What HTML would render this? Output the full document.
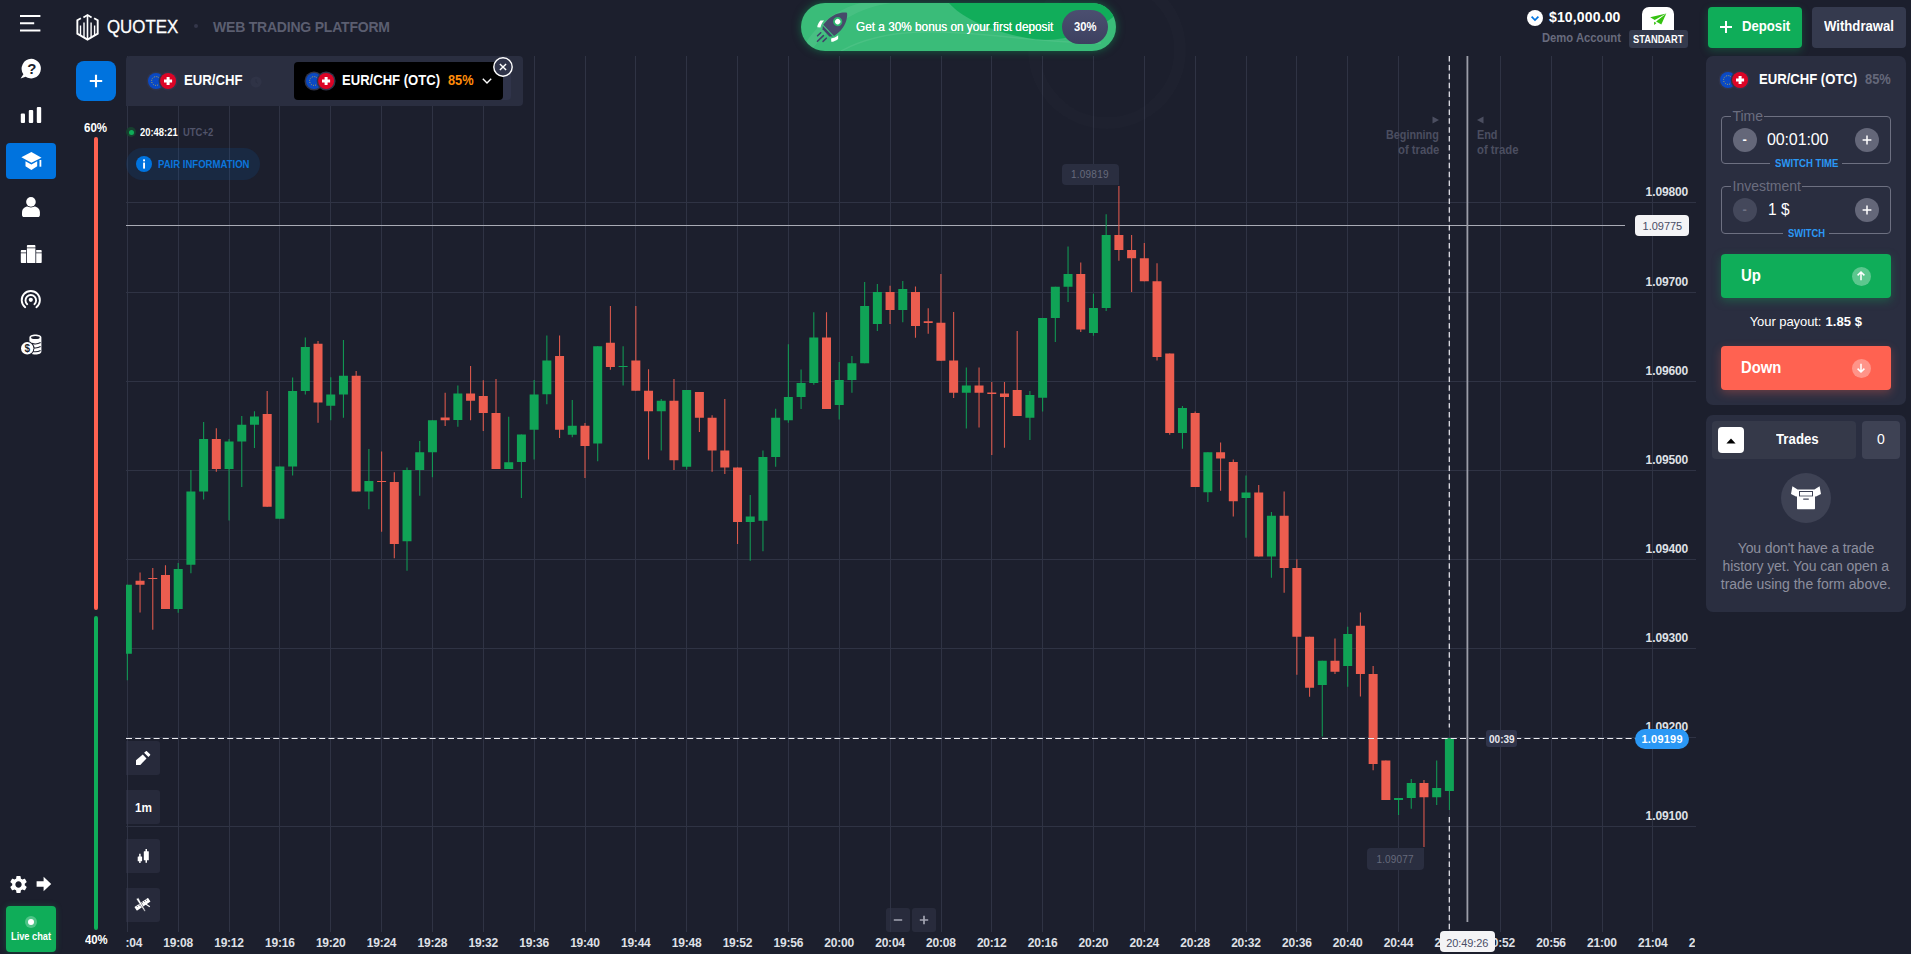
<!DOCTYPE html>
<html lang="en"><head><meta charset="utf-8"><title>Quotex - Web Trading Platform</title>
<style>
*{box-sizing:border-box;margin:0;padding:0}
html,body{width:1911px;height:954px;overflow:hidden;background:#1c1f2d;font-family:"Liberation Sans",sans-serif;color:#fff}
#app{position:relative;width:1911px;height:954px;overflow:hidden;background:#1c1f2d}
.t{position:absolute;white-space:pre;display:block;transform-origin:0 50%}
.a{position:absolute;display:block}
svg{position:absolute;display:block;overflow:visible}
</style></head><body><div id="app">

<svg id="chart" width="1911" height="954" viewBox="0 0 1911 954" style="left:0;top:0">
<defs><clipPath id="cc"><rect x="126" y="56" width="1570" height="880"/></clipPath></defs>
<path d="M127.5 56V932 M178.5 56V932 M229.5 56V932 M279.5 56V932 M330.5 56V932 M381.5 56V932 M432.5 56V932 M483.5 56V932 M534.5 56V932 M585.5 56V932 M635.5 56V932 M686.5 56V932 M737.5 56V932 M788.5 56V932 M839.5 56V932 M890.5 56V932 M941.5 56V932 M991.5 56V932 M1042.5 56V932 M1093.5 56V932 M1144.5 56V932 M1195.5 56V932 M1246.5 56V932 M1296.5 56V932 M1347.5 56V932 M1398.5 56V932 M1449.5 56V932 M1500.5 56V932 M1551.5 56V932 M1602.5 56V932 M1652.5 56V932 M126 202.5H1696 M126 292.5H1696 M126 381.5H1696 M126 470.5H1696 M126 559.5H1696 M126 648.5H1696 M126 737.5H1696 M126 826.5H1696" stroke="#2f3344" stroke-width="1" fill="none" shape-rendering="crispEdges"/>
<path d="M126 225.5H1625" stroke="#a9abb5" stroke-width="1" fill="none"/>
<path d="M1449.3 56V727.6M1449.3 817V932" stroke="#e4e4ea" stroke-width="1.25" stroke-dasharray="5.5 3.4" fill="none"/>
<g clip-path="url(#cc)">
<path d="M127.35 584.8V680.3 M178.20 563.0V612.7 M190.91 470.1V573.3 M203.62 422.1V499.6 M229.05 439.0V520.5 M241.76 416.0V486.9 M254.47 411.2V447.9 M279.89 466.5V518.8 M292.61 377.4V475.6 M305.32 337.4V394.4 M330.74 377.2V420.2 M343.45 340.1V417.7 M368.88 448.9V509.3 M407.01 467.6V570.8 M419.73 441.0V495.7 M432.44 420.2V477.2 M457.86 385.4V426.7 M508.71 416.8V469.1 M521.42 434.5V498.0 M534.13 380.1V459.4 M546.85 335.5V404.3 M572.27 399.9V437.2 M597.69 346.2V461.3 M623.12 346.2V385.6 M661.25 399.0V450.6 M686.68 390.0V469.5 M750.24 495.0V560.7 M762.95 450.6V551.2 M775.66 408.7V466.7 M788.37 344.3V422.7 M801.09 369.5V408.9 M813.80 312.2V384.8 M839.22 362.1V419.6 M851.93 356.0V392.7 M864.65 282.0V363.2 M877.36 284.0V331.0 M902.78 281.1V322.2 M966.34 367.6V428.4 M1029.90 391.1V440.0 M1042.61 318.0V411.5 M1055.33 286.8V341.9 M1068.04 246.5V301.9 M1093.46 293.7V335.7 M1106.17 214.2V310.9 M1182.45 406.0V448.8 M1207.87 452.2V502.0 M1246.01 475.4V537.7 M1271.43 512.1V577.7 M1322.28 660.7V736.4 M1347.70 626.8V686.7 M1398.55 798.0V815.0 M1411.26 779.0V808.7 M1436.69 760.4V805.0 M1449.40 738.1V809.9" stroke="#10a356" stroke-width="1.1" fill="none" opacity="0.9"/>
<path d="M140.06 572.5V612.5 M152.77 568.0V629.7 M165.49 565.3V608.9 M216.33 428.2V471.8 M267.18 391.0V506.7 M318.03 341.0V422.7 M356.17 371.0V491.6 M381.59 451.4V531.8 M394.30 472.2V558.2 M445.15 392.7V425.9 M470.57 365.9V420.2 M483.29 380.2V430.9 M496.00 379.1V469.1 M559.56 335.5V438.0 M584.98 422.9V478.0 M610.41 305.9V369.7 M635.83 305.9V390.8 M648.54 369.2V459.6 M673.97 379.1V469.9 M699.39 391.9V431.9 M712.10 415.2V471.8 M724.81 399.0V473.9 M737.53 467.5V544.1 M826.51 312.2V408.9 M890.07 285.8V323.9 M915.49 286.4V337.7 M928.21 308.2V333.8 M940.92 274.1V360.8 M953.63 312.1V398.0 M979.05 367.6V427.6 M991.77 381.9V454.9 M1004.48 381.9V447.7 M1017.19 331.0V415.9 M1080.75 262.5V332.0 M1118.89 186.1V260.8 M1131.60 235.0V292.0 M1144.31 243.0V281.3 M1157.02 263.3V360.6 M1169.73 353.4V434.7 M1195.16 411.5V486.9 M1220.58 442.4V490.7 M1233.29 459.4V516.5 M1258.72 485.0V556.6 M1284.14 491.4V592.8 M1296.85 559.3V674.8 M1309.57 636.7V696.8 M1334.99 638.4V674.0 M1360.41 612.6V696.6 M1373.13 665.9V770.3 M1385.84 760.6V799.9 M1423.97 779.9V847.0" stroke="#ec5d4f" stroke-width="1.1" fill="none" opacity="0.9"/>
<path d="M122.85 584.8h9V653.8h-9z M173.70 568.9h9V608.9h-9z M186.41 491.5h9V564.7h-9z M199.12 439.1h9V491.5h-9z M224.55 441.6h9V469.1h-9z M237.26 424.8h9V441.6h-9z M249.97 416.6h9V424.7h-9z M275.39 466.5h9V518.8h-9z M288.11 391.0h9V466.5h-9z M300.82 347.0h9V391.0h-9z M326.24 394.4h9V405.7h-9z M338.95 375.8h9V394.4h-9z M364.38 481.0h9V491.6h-9z M402.51 470.1h9V541.2h-9z M415.23 452.3h9V470.1h-9z M427.94 420.2h9V452.3h-9z M453.36 393.6h9V420.0h-9z M504.21 462.2h9V469.1h-9z M516.92 434.5h9V462.0h-9z M529.63 394.4h9V429.8h-9z M542.35 360.6h9V394.2h-9z M567.77 425.8h9V434.7h-9z M593.19 346.2h9V443.5h-9z M618.62 366.1h9V367.1h-9z M656.75 400.7h9V411.2h-9z M682.18 390.0h9V466.7h-9z M745.74 516.4h9V521.9h-9z M758.45 457.0h9V520.8h-9z M771.16 417.7h9V456.9h-9z M783.87 397.1h9V420.2h-9z M796.59 383.1h9V396.9h-9z M809.30 337.4h9V382.9h-9z M834.72 380.1h9V404.9h-9z M847.43 363.2h9V380.1h-9z M860.15 306.1h9V363.2h-9z M872.86 292.0h9V323.9h-9z M898.28 289.1h9V309.9h-9z M961.84 385.5h9V392.8h-9z M1025.40 395.1h9V417.8h-9z M1038.11 318.0h9V397.8h-9z M1050.83 286.8h9V318.0h-9z M1063.54 274.0h9V286.8h-9z M1088.96 307.9h9V332.9h-9z M1101.67 235.0h9V307.9h-9z M1177.95 407.9h9V432.9h-9z M1203.37 452.2h9V492.3h-9z M1241.51 492.4h9V497.9h-9z M1266.93 515.7h9V556.6h-9z M1317.78 660.7h9V684.9h-9z M1343.20 633.9h9V666.1h-9z M1394.05 798.0h9V799.9h-9z M1406.76 783.1h9V798.0h-9z M1432.19 787.9h9V797.2h-9z M1444.90 738.1h9V791.0h-9z" fill="#10a356"/>
<path d="M135.56 580.8h9V584.8h-9z M148.27 577.9h9V578.9h-9z M160.99 575.0h9V608.9h-9z M211.83 439.1h9V469.1h-9z M262.68 414.1h9V506.7h-9z M313.53 343.7h9V402.4h-9z M351.67 375.8h9V491.6h-9z M377.09 481.0h9V482.0h-9z M389.80 481.9h9V543.9h-9z M440.65 417.5h9V420.2h-9z M466.07 393.6h9V400.7h-9z M478.79 396.1h9V412.9h-9z M491.50 413.1h9V469.1h-9z M555.06 356.0h9V429.8h-9z M580.48 425.8h9V446.0h-9z M605.91 342.8h9V366.9h-9z M631.33 360.6h9V390.8h-9z M644.04 390.8h9V411.2h-9z M669.47 400.7h9V460.2h-9z M694.89 391.9h9V417.7h-9z M707.60 417.7h9V450.6h-9z M720.31 450.6h9V467.6h-9z M733.03 467.5h9V521.9h-9z M822.01 337.4h9V408.9h-9z M885.57 292.0h9V309.9h-9z M910.99 292.0h9V326.0h-9z M923.71 321.3h9V323.1h-9z M936.42 322.8h9V360.8h-9z M949.13 360.5h9V392.8h-9z M974.55 385.5h9V392.8h-9z M987.27 392.6h9V393.9h-9z M999.98 393.6h9V397.0h-9z M1012.69 389.9h9V415.9h-9z M1076.25 274.0h9V329.5h-9z M1114.39 235.0h9V249.9h-9z M1127.10 249.9h9V258.3h-9z M1139.81 258.3h9V281.3h-9z M1152.52 281.3h9V356.9h-9z M1165.23 353.4h9V432.9h-9z M1190.66 412.9h9V486.9h-9z M1216.08 452.2h9V458.6h-9z M1228.79 462.1h9V501.2h-9z M1254.22 492.4h9V556.6h-9z M1279.64 515.7h9V567.9h-9z M1292.35 568.1h9V636.8h-9z M1305.07 636.7h9V687.7h-9z M1330.49 660.7h9V671.8h-9z M1355.91 625.8h9V674.0h-9z M1368.63 674.0h9V764.0h-9z M1381.34 760.6h9V799.9h-9z M1419.47 783.1h9V797.2h-9z" fill="#ec5d4f"/>
</g>
<path d="M126 738.5H1640" stroke="#ececf0" stroke-width="1.2" stroke-dasharray="6 3.2" fill="none"/>
<path d="M1467.4 56V922" stroke="#9b9da8" stroke-width="1.8" fill="none"/>
</svg>
<span class="t" style="left:1645.60px;top:183.70px;font-size:12px;line-height:16px;height:16px;color:#dfe0e6;letter-spacing:-0.113px;font-weight:700;">1.09800</span>
<span class="t" style="left:1645.60px;top:273.70px;font-size:12px;line-height:16px;height:16px;color:#dfe0e6;letter-spacing:-0.113px;font-weight:700;">1.09700</span>
<span class="t" style="left:1645.60px;top:362.70px;font-size:12px;line-height:16px;height:16px;color:#dfe0e6;letter-spacing:-0.113px;font-weight:700;">1.09600</span>
<span class="t" style="left:1645.60px;top:451.70px;font-size:12px;line-height:16px;height:16px;color:#dfe0e6;letter-spacing:-0.113px;font-weight:700;">1.09500</span>
<span class="t" style="left:1645.60px;top:540.70px;font-size:12px;line-height:16px;height:16px;color:#dfe0e6;letter-spacing:-0.113px;font-weight:700;">1.09400</span>
<span class="t" style="left:1645.60px;top:629.70px;font-size:12px;line-height:16px;height:16px;color:#dfe0e6;letter-spacing:-0.113px;font-weight:700;">1.09300</span>
<span class="t" style="left:1645.60px;top:718.70px;font-size:12px;line-height:16px;height:16px;color:#dfe0e6;letter-spacing:-0.113px;font-weight:700;">1.09200</span>
<span class="t" style="left:1645.60px;top:807.70px;font-size:12px;line-height:16px;height:16px;color:#dfe0e6;letter-spacing:-0.113px;font-weight:700;">1.09100</span>
<div class="a" style="left:126px;top:930px;width:1569px;height:24px;overflow:hidden">
<span class="t" style="left:-13.50px;top:5.00px;font-size:12px;line-height:16px;height:16px;color:#dfe0e6;letter-spacing:-0.223px;font-weight:700;">19:04</span>
<span class="t" style="left:37.35px;top:5.00px;font-size:12px;line-height:16px;height:16px;color:#dfe0e6;letter-spacing:-0.223px;font-weight:700;">19:08</span>
<span class="t" style="left:88.20px;top:5.00px;font-size:12px;line-height:16px;height:16px;color:#dfe0e6;letter-spacing:-0.223px;font-weight:700;">19:12</span>
<span class="t" style="left:139.04px;top:5.00px;font-size:12px;line-height:16px;height:16px;color:#dfe0e6;letter-spacing:-0.223px;font-weight:700;">19:16</span>
<span class="t" style="left:189.89px;top:5.00px;font-size:12px;line-height:16px;height:16px;color:#dfe0e6;letter-spacing:-0.223px;font-weight:700;">19:20</span>
<span class="t" style="left:240.74px;top:5.00px;font-size:12px;line-height:16px;height:16px;color:#dfe0e6;letter-spacing:-0.223px;font-weight:700;">19:24</span>
<span class="t" style="left:291.59px;top:5.00px;font-size:12px;line-height:16px;height:16px;color:#dfe0e6;letter-spacing:-0.223px;font-weight:700;">19:28</span>
<span class="t" style="left:342.44px;top:5.00px;font-size:12px;line-height:16px;height:16px;color:#dfe0e6;letter-spacing:-0.223px;font-weight:700;">19:32</span>
<span class="t" style="left:393.28px;top:5.00px;font-size:12px;line-height:16px;height:16px;color:#dfe0e6;letter-spacing:-0.223px;font-weight:700;">19:36</span>
<span class="t" style="left:444.13px;top:5.00px;font-size:12px;line-height:16px;height:16px;color:#dfe0e6;letter-spacing:-0.223px;font-weight:700;">19:40</span>
<span class="t" style="left:494.98px;top:5.00px;font-size:12px;line-height:16px;height:16px;color:#dfe0e6;letter-spacing:-0.223px;font-weight:700;">19:44</span>
<span class="t" style="left:545.83px;top:5.00px;font-size:12px;line-height:16px;height:16px;color:#dfe0e6;letter-spacing:-0.223px;font-weight:700;">19:48</span>
<span class="t" style="left:596.68px;top:5.00px;font-size:12px;line-height:16px;height:16px;color:#dfe0e6;letter-spacing:-0.223px;font-weight:700;">19:52</span>
<span class="t" style="left:647.52px;top:5.00px;font-size:12px;line-height:16px;height:16px;color:#dfe0e6;letter-spacing:-0.223px;font-weight:700;">19:56</span>
<span class="t" style="left:698.37px;top:5.00px;font-size:12px;line-height:16px;height:16px;color:#dfe0e6;letter-spacing:-0.223px;font-weight:700;">20:00</span>
<span class="t" style="left:749.22px;top:5.00px;font-size:12px;line-height:16px;height:16px;color:#dfe0e6;letter-spacing:-0.223px;font-weight:700;">20:04</span>
<span class="t" style="left:800.07px;top:5.00px;font-size:12px;line-height:16px;height:16px;color:#dfe0e6;letter-spacing:-0.223px;font-weight:700;">20:08</span>
<span class="t" style="left:850.92px;top:5.00px;font-size:12px;line-height:16px;height:16px;color:#dfe0e6;letter-spacing:-0.223px;font-weight:700;">20:12</span>
<span class="t" style="left:901.76px;top:5.00px;font-size:12px;line-height:16px;height:16px;color:#dfe0e6;letter-spacing:-0.223px;font-weight:700;">20:16</span>
<span class="t" style="left:952.61px;top:5.00px;font-size:12px;line-height:16px;height:16px;color:#dfe0e6;letter-spacing:-0.223px;font-weight:700;">20:20</span>
<span class="t" style="left:1003.46px;top:5.00px;font-size:12px;line-height:16px;height:16px;color:#dfe0e6;letter-spacing:-0.223px;font-weight:700;">20:24</span>
<span class="t" style="left:1054.31px;top:5.00px;font-size:12px;line-height:16px;height:16px;color:#dfe0e6;letter-spacing:-0.223px;font-weight:700;">20:28</span>
<span class="t" style="left:1105.16px;top:5.00px;font-size:12px;line-height:16px;height:16px;color:#dfe0e6;letter-spacing:-0.223px;font-weight:700;">20:32</span>
<span class="t" style="left:1156.00px;top:5.00px;font-size:12px;line-height:16px;height:16px;color:#dfe0e6;letter-spacing:-0.223px;font-weight:700;">20:36</span>
<span class="t" style="left:1206.85px;top:5.00px;font-size:12px;line-height:16px;height:16px;color:#dfe0e6;letter-spacing:-0.223px;font-weight:700;">20:40</span>
<span class="t" style="left:1257.70px;top:5.00px;font-size:12px;line-height:16px;height:16px;color:#dfe0e6;letter-spacing:-0.223px;font-weight:700;">20:44</span>
<span class="t" style="left:1308.55px;top:5.00px;font-size:12px;line-height:16px;height:16px;color:#dfe0e6;letter-spacing:-0.223px;font-weight:700;">20:48</span>
<span class="t" style="left:1359.40px;top:5.00px;font-size:12px;line-height:16px;height:16px;color:#dfe0e6;letter-spacing:-0.223px;font-weight:700;">20:52</span>
<span class="t" style="left:1410.24px;top:5.00px;font-size:12px;line-height:16px;height:16px;color:#dfe0e6;letter-spacing:-0.223px;font-weight:700;">20:56</span>
<span class="t" style="left:1461.09px;top:5.00px;font-size:12px;line-height:16px;height:16px;color:#dfe0e6;letter-spacing:-0.223px;font-weight:700;">21:00</span>
<span class="t" style="left:1511.94px;top:5.00px;font-size:12px;line-height:16px;height:16px;color:#dfe0e6;letter-spacing:-0.223px;font-weight:700;">21:04</span>
<span class="t" style="left:1562.79px;top:5.00px;font-size:12px;line-height:16px;height:16px;color:#dfe0e6;letter-spacing:-0.223px;font-weight:700;">21:08</span>
</div>
<div class="a" style="left:1635px;top:215px;width:54px;height:21px;border-radius:4px;background:#f4f4f6"></div>
<span class="t" style="left:1642.60px;top:218.80px;font-size:11px;line-height:14px;height:14px;color:#4a4e66;letter-spacing:-0.027px;">1.09775</span>
<div class="a" style="left:1635px;top:729px;width:54px;height:20px;border-radius:10px;background:#2b98f5"></div>
<span class="t" style="left:1641.50px;top:732.00px;font-size:11px;line-height:14px;height:14px;color:#fff;letter-spacing:0.206px;font-weight:700;">1.09199</span>
<div class="a" style="left:1486px;top:730px;width:31px;height:17px;border-radius:3px;background:#30344a"></div>
<span class="t" style="left:1488.60px;top:731.90px;font-size:11px;line-height:14px;height:14px;color:#e8e8ee;transform:scaleX(0.9099);font-weight:700;">00:39</span>
<div class="a" style="left:1440px;top:931px;width:55px;height:21px;border-radius:4px;background:#f4f4f6"></div>
<span class="t" style="left:1446.30px;top:935.50px;font-size:11px;line-height:14px;height:14px;color:#4a4e66;letter-spacing:-0.117px;">20:49:26</span>
<div class="a" style="left:1062px;top:164px;width:57px;height:21px;border-radius:4px 4px 0 4px;background:#2a2e40"></div>
<span class="t" style="left:1071.00px;top:168.30px;font-size:10px;line-height:13px;height:13px;color:#666a7c;letter-spacing:0.225px;">1.09819</span>
<div class="a" style="left:1367px;top:848px;width:57px;height:22px;border-radius:4px 0 4px 4px;background:#2a2e40"></div>
<span class="t" style="left:1376.50px;top:853.00px;font-size:10px;line-height:13px;height:13px;color:#666a7c;letter-spacing:0.142px;">1.09077</span>
<span class="t" style="left:1386.20px;top:127.00px;font-size:12px;line-height:16px;height:16px;color:#4b4e60;transform:scaleX(0.9001);font-weight:700;">Beginning</span>
<span class="t" style="left:1397.60px;top:142.00px;font-size:12px;line-height:16px;height:16px;color:#4b4e60;transform:scaleX(0.9408);font-weight:700;">of trade</span>
<span class="t" style="left:1476.50px;top:127.00px;font-size:12px;line-height:16px;height:16px;color:#4b4e60;transform:scaleX(0.9045);font-weight:700;">End</span>
<span class="t" style="left:1476.50px;top:142.00px;font-size:12px;line-height:16px;height:16px;color:#4b4e60;transform:scaleX(0.9431);font-weight:700;">of trade</span>
<svg width="8" height="8" viewBox="0 0 8 8" style="left:1432px;top:115.5px"><path d="M0.5 0.5L7 4L0.5 7.5z" fill="#4b4e60"/></svg>
<svg width="8" height="8" viewBox="0 0 8 8" style="left:1476px;top:115.5px"><path d="M7.5 0.5L1 4L7.5 7.5z" fill="#4b4e60"/></svg>
<div class="a" style="left:886px;top:908px;width:24px;height:24px;border-radius:3px;background:rgba(48,52,70,.62)"></div>
<div class="a" style="left:912px;top:908px;width:24px;height:24px;border-radius:3px;background:rgba(48,52,70,.62)"></div>
<svg width="50" height="24" viewBox="0 0 50 24" style="left:886px;top:908px"><path d="M7.8 12h8.4M33.8 12h8.4M38 7.8v8.4" stroke="#a3a5b2" stroke-width="1.7" fill="none"/></svg>
<svg width="22" height="18" viewBox="0 0 22 18" style="left:20px;top:14px"><path d="M0 2h20.4M0 9.2h14.2M0 16.4h20.4" stroke="#fff" stroke-width="2" fill="none"/></svg>
<svg width="23" height="27" viewBox="0 0 23 27" style="left:75.85px;top:13.8px">
<path d="M4.9 4.2L1.35 6.3V19.6L11.5 25.6L21.7 19.6V6.3L18.1 4.2" fill="none" stroke="#fff" stroke-width="1.9" stroke-linejoin="miter"/>
<path d="M7.4 3.6L11.5 1.1L15.6 3.6" fill="none" stroke="#fff" stroke-width="1.7"/>
<path d="M11.5 1.2V25" stroke="#fff" stroke-width="1.6" fill="none"/>
<path d="M4.5 11.4V21M8 8.6V23.2M15.1 8.6V23.2M18.6 11.4V21" stroke="#fff" stroke-width="1.4" fill="none"/>
</svg>
<span class="t" style="left:107.20px;top:15.80px;font-size:18px;line-height:23px;height:23px;color:#fff;transform:scaleX(0.9367);-webkit-text-stroke:.3px #fff;">QUOTEX</span>
<div class="a" style="left:193.6px;top:24px;width:4.4px;height:4.4px;border-radius:50%;background:#34374a"></div>
<span class="t" style="left:213.00px;top:18.20px;font-size:14px;line-height:18px;height:18px;color:#5b5e70;letter-spacing:-0.208px;font-weight:700;">WEB TRADING PLATFORM</span>
<div class="a" style="left:1028px;top:-29px;width:158px;height:158px;border-radius:50%;border:12px solid rgba(255,255,255,.012)"></div>
<div class="a" style="left:801px;top:3px;width:315px;height:48px;border-radius:24px;background:#3abc79;box-shadow:0 0 9px rgba(16,173,91,.5);overflow:hidden">
<svg width="315" height="48" viewBox="0 0 315 48" style="left:0;top:0">
<path d="M148 0C160 14 190 30 235 36.5C262 39 292 30 315 12V0Z" fill="#11ad5a"/>
<path d="M10 48C30 20 60 4 90 0H60C35 6 12 24 0 48Z" fill="#fff" opacity=".07"/>
<path d="M40 48C110 10 200 40 300 40" fill="none" stroke="#fff" stroke-width="1.4" opacity=".08"/>
</svg></div>
<svg width="40" height="40" viewBox="810 8 40 40" style="left:810px;top:8px">
<g transform="translate(847 12.7) rotate(46.2)">
<path d="M0 0C-3 2-7.6 8-8.3 17C-8.4 20-8.1 23-7.8 25.4H7.8C8.1 23 8.6 20 8.5 17C7.8 8 3 2 0 0Z" fill="#464a6a"/>
<circle cx="0" cy="12.9" r="4.6" fill="#2cb86e"/><circle cx="0" cy="12.9" r="2.7" fill="#fff"/>
<path d="M-7.3 26.6H7.3L4.9 29.2H-4.9Z" fill="#40446a"/>
<path d="M-10.2 22L-12.8 24.6C-12.6 27.5-11.6 30-10.1 31.5L-7.7 29.4C-9.2 27.2-10 24.8-10.2 22Z" fill="#fff"/>
<path d="M10.2 22L12.8 24.6C12.6 27.5 11.6 30 10.1 31.5L7.7 29.4C9.2 27.2 10 24.8 10.2 22Z" fill="#fff"/>
<path d="M-3.7 32.8V37.2M0.2 32.9V41.1M4.1 32.6V37.1" stroke="#40446a" stroke-width="1.6" stroke-linecap="round"/>
</g></svg>
<span class="t" style="left:856.00px;top:18.10px;font-size:13px;line-height:17px;height:17px;color:#fff;transform:scaleX(0.9075);text-shadow:0 0 .4px #fff;">Get a 30% bonus on your first deposit</span>
<div class="a" style="left:1062px;top:10px;width:46px;height:34px;border-radius:17px;background:linear-gradient(180deg,#4b4f70,#3d4060)"></div>
<span class="t" style="left:1073.50px;top:18.10px;font-size:13px;line-height:17px;height:17px;color:#fff;transform:scaleX(0.8647);font-weight:700;">30%</span>
<svg width="18" height="18" viewBox="0 0 18 18" style="left:1526px;top:9px"><circle cx="9" cy="9" r="8" fill="#fff"/><path d="M5.6 7.6L9 11L12.4 7.6" stroke="#0073de" stroke-width="1.7" fill="none"/></svg>
<span class="t" style="left:1549.00px;top:8.40px;font-size:14px;line-height:18px;height:18px;color:#fff;letter-spacing:0.148px;font-weight:700;">$10,000.00</span>
<span class="t" style="left:1541.50px;top:30.00px;font-size:12px;line-height:16px;height:16px;color:#686b7d;transform:scaleX(0.9367);font-weight:700;">Demo Account</span>
<div class="a" style="left:1642px;top:6.8px;width:32.2px;height:26px;border-radius:7px 7px 0 0;background:#fff"></div>
<svg width="20" height="14" viewBox="1648 12 20 14" style="left:1648px;top:12px"><path d="M1650.2 17.3L1666.3 13.6L1654.7 20.1Z" fill="#35c211"/><path d="M1666.3 13.6L1661.3 24.6L1656.1 21.4Z" fill="#35c211"/><path d="M1654.1 21.8V24.9L1656.5 23Z" fill="#35c211"/></svg>
<div class="a" style="left:1629px;top:30px;width:59px;height:18px;border-radius:3px;background:#343a4d"></div>
<span class="t" style="left:1632.70px;top:32.50px;font-size:10px;line-height:13px;height:13px;color:#fff;transform:scaleX(0.9308);font-weight:700;">STANDART</span>
<div class="a" style="left:1708px;top:7px;width:94px;height:41px;border-radius:4px;background:#0fad59;box-shadow:0 3px 9px rgba(16,169,88,.3)"></div>
<svg width="14" height="14" viewBox="0 0 14 14" style="left:1719px;top:20px"><path d="M1 7h12M7 1v12" stroke="#fff" stroke-width="2" fill="none"/></svg>
<span class="t" style="left:1741.50px;top:17.00px;font-size:14px;line-height:18px;height:18px;color:#fff;transform:scaleX(0.9388);font-weight:700;">Deposit</span>
<div class="a" style="left:1812px;top:7px;width:94px;height:41px;border-radius:4px;background:#353a4e"></div>
<span class="t" style="left:1824.00px;top:17.00px;font-size:14px;line-height:18px;height:18px;color:#fff;transform:scaleX(0.9390);font-weight:700;">Withdrawal</span>
<svg width="22" height="22" viewBox="0 0 22 22" style="left:20px;top:58px">
<path d="M11.2 0.8a9.8 9.8 0 1 1 -5.6 17.9L0.6 20.6L3.4 16.2A9.8 9.8 0 0 1 11.2 0.8Z" fill="#fff"/>
</svg>
<span class="t" style="left:27.20px;top:58.60px;font-size:15px;line-height:20px;height:20px;color:#1c1f2d;letter-spacing:-1.163px;font-weight:700;">?</span>
<svg width="22" height="18" viewBox="0 0 22 18" style="left:20px;top:105.5px">
<rect x="0.8" y="7.6" width="4.2" height="9.4" rx="1" fill="#fff"/><rect x="8.8" y="4" width="4.4" height="13" rx="1" fill="#fff"/><rect x="16.8" y="1" width="4.4" height="16" rx="1" fill="#fff"/></svg>
<div class="a" style="left:6px;top:143px;width:50px;height:36px;border-radius:4px;background:#0073de"></div>
<svg width="22" height="20" viewBox="0 0 22 20" style="left:20.5px;top:151px">
<path d="M0.4 6.3L10.4 0.9L20.5 6.7L10.4 11.8Z" fill="#fff"/>
<path d="M4.5 10.2L10.4 13.4L16.2 10.2V15.3L10.4 19.1L4.5 15.3Z" fill="#fff"/>
<rect x="18.5" y="9" width="1.8" height="6.7" fill="#fff"/>
</svg>
<svg width="20" height="22" viewBox="0 0 20 22" style="left:21px;top:196px">
<path d="M1 19V16.4C1 12.8 3.6 10.4 7 10.4H12.9C16.3 10.4 18.9 12.8 18.9 16.4V19C18.9 20.3 18 21.1 17 21.1H2.9C1.9 21.1 1 20.3 1 19Z" fill="#fff"/>
<circle cx="9.95" cy="5.9" r="5.5" fill="#1c1f2d"/>
<circle cx="9.95" cy="5.9" r="4.8" fill="#fff"/></svg>
<svg width="22" height="20" viewBox="0 0 22 20" style="left:20px;top:244px">
<path d="M6.9 2C6.9 1.4 7.4 1 8 1H14.3C14.9 1 15.4 1.4 15.4 2V3.5H6.9Z" fill="#fff"/>
<path d="M6.9 4.3H15.4V19.1H7.9C7.3 19.1 6.9 18.7 6.9 18.1Z" fill="#fff"/>
<path d="M0.8 7C0.8 6.4 1.2 5.9 1.8 5.9H6.1V8.4H0.8Z" fill="#fff"/>
<path d="M0.8 9.2H6.1V19.1H1.8C1.2 19.1 0.8 18.7 0.8 18.1Z" fill="#fff"/>
<path d="M16.2 5.9H20.7C21.3 5.9 21.7 6.4 21.7 7V8.4H16.2Z" fill="#fff"/>
<path d="M16.2 9.2H21.7V18.1C21.7 18.7 21.3 19.1 20.7 19.1H16.2Z" fill="#fff"/>
</svg>
<svg width="22" height="20" viewBox="0 0 22 20" style="left:20px;top:289px">
<circle cx="10.8" cy="10.8" r="2.1" fill="#fff"/>
<path d="M7.2 15.2A5.3 5.3 0 1 1 14.4 15.2" fill="none" stroke="#fff" stroke-width="1.9" stroke-linecap="round"/>
<path d="M5.2 18.2A9.1 9.1 0 1 1 16.4 18.2" fill="none" stroke="#fff" stroke-width="1.9" stroke-linecap="round"/>
</svg>
<svg width="22" height="22" viewBox="0 0 22 22" style="left:20px;top:334px">
<path d="M9.4 3.4C9.4 1.7 12 0.5 15.4 0.5S21.4 1.7 21.4 3.4V17.6C21.4 19.3 19 20.6 15.4 20.6S9.4 19.3 9.4 17.6Z" fill="#fff"/>
<ellipse cx="15.4" cy="3.6" rx="4.3" ry="1.5" fill="#1c1f2d"/>
<path d="M12 9.4C14 10 18 10 20.6 8.6M12 13.4C14 14 18 14 20.6 12.6M12 17.2C14 17.8 18 17.8 20.6 16.4" stroke="#1c1f2d" stroke-width="1.1" fill="none"/>
<circle cx="7.2" cy="14.3" r="7.2" fill="#1c1f2d"/>
<circle cx="7.2" cy="14.3" r="6.2" fill="#fff"/>
</svg>
<span class="t" style="left:24.60px;top:341.90px;font-size:10px;line-height:13px;height:13px;color:#1c1f2d;letter-spacing:-0.362px;font-weight:700;">$</span>
<svg width="21" height="21" viewBox="0 0 24 24" style="left:7.5px;top:873.6px">
<path d="M19.14 12.94c.04-.3.06-.61.06-.94 0-.32-.02-.64-.07-.94l2.03-1.58a.49.49 0 0 0 .12-.61l-1.92-3.32a.488.488 0 0 0-.59-.22l-2.39.96c-.5-.38-1.03-.7-1.62-.94l-.36-2.54a.484.484 0 0 0-.48-.41h-3.84c-.24 0-.43.17-.47.41l-.36 2.54c-.59.24-1.13.57-1.62.94l-2.39-.96c-.22-.08-.47 0-.59.22L2.74 8.87c-.12.21-.08.47.12.61l2.03 1.58c-.05.3-.09.63-.09.94s.02.64.07.94l-2.03 1.58a.49.49 0 0 0-.12.61l1.92 3.32c.12.22.37.29.59.22l2.39-.96c.5.38 1.03.7 1.62.94l.36 2.54c.05.24.24.41.48.41h3.84c.24 0 .44-.17.47-.41l.36-2.54c.59-.24 1.13-.56 1.62-.94l2.39.96c.22.08.47 0 .59-.22l1.92-3.32c.12-.22.07-.47-.12-.61l-2.01-1.58zM12 15.6c-1.98 0-3.600-1.62-3.600-3.600s1.620-3.600 3.600-3.600 3.600 1.620 3.600 3.600-1.620 3.600-3.600 3.600z" fill="#fff"/></svg>
<svg width="16" height="16" viewBox="0 0 16 16" style="left:36px;top:875.8px"><path d="M0.6 5.3H7.6V0.8L15.2 8L7.6 15.2V10.7H0.6Z" fill="#fff"/></svg>
<div class="a" style="left:6px;top:906px;width:50px;height:46px;border-radius:4px;background:#0fad59;box-shadow:0 0 6px rgba(16,169,88,.3)"></div>
<div class="a" style="left:25px;top:916px;width:12px;height:12px;border-radius:50%;background:#4fc487"></div>
<div class="a" style="left:28px;top:919px;width:6px;height:6px;border-radius:50%;background:#fff"></div>
<span class="t" style="left:11.00px;top:929.50px;font-size:10px;line-height:13px;height:13px;color:#fff;transform:scaleX(0.9227);font-weight:700;">Live chat</span>
<span class="t" style="left:84.30px;top:120.00px;font-size:12px;line-height:16px;height:16px;color:#fff;transform:scaleX(0.9618);font-weight:700;">60%</span>
<div class="a" style="left:94px;top:137px;width:4px;height:473px;border-radius:2px;background:#ff6251"></div>
<div class="a" style="left:94px;top:616px;width:4px;height:314px;border-radius:2px;background:#0fad59"></div>
<span class="t" style="left:84.70px;top:931.50px;font-size:12px;line-height:16px;height:16px;color:#fff;transform:scaleX(0.9451);font-weight:700;">40%</span>
<div class="a" style="left:76px;top:61px;width:40px;height:40px;border-radius:8px;background:#0073de"></div>
<svg width="14" height="14" viewBox="0 0 14 14" style="left:89px;top:74px"><path d="M0.8 7h12.4M7 0.8v12.4" stroke="#fff" stroke-width="2.1" fill="none"/></svg>
<div class="a" style="left:126px;top:56px;width:397px;height:50px;border-radius:4px 4px 4px 0;background:#2a2e40"></div>
<div class="a" style="left:500px;top:62px;width:11px;height:38px;border-radius:0 4px 4px 0;background:#30344a"></div>
<div class="a" style="left:294px;top:62px;width:209px;height:38px;border-radius:4px;background:#000"></div>
<svg width="34" height="22" viewBox="0 0 34 22" style="left:145px;top:70.2px">
<circle cx="11" cy="11" r="9.5" fill="#30344a"/><circle cx="11" cy="11" r="8" fill="#0a49c4"/>
<circle cx="11" cy="11" r="4.4" fill="none" stroke="#e8c52a" stroke-width="1" stroke-dasharray="0.9 1.4" opacity=".85"/>
<circle cx="23.1" cy="11" r="9.5" fill="#30344a"/><circle cx="23.1" cy="11" r="8" fill="#dc0426"/>
<path d="M23.1 7v8.1M19 11.05h8.1" stroke="#fff" stroke-width="3"/>
</svg>
<span class="t" style="left:183.60px;top:70.90px;font-size:14px;line-height:18px;height:18px;color:#fff;transform:scaleX(0.9402);font-weight:700;">EUR/CHF</span>
<svg width="12" height="12" viewBox="0 0 12 12" style="left:250px;top:75.5px"><circle cx="6" cy="6" r="5.6" fill="#2f3346"/><path d="M6 3v3.2l2 1.2" stroke="#2a2e40" stroke-width="1" fill="none"/></svg>
<svg width="34" height="22" viewBox="0 0 34 22" style="left:303px;top:70px">
<circle cx="11" cy="11" r="9.5" fill="#30344a"/><circle cx="11" cy="11" r="8" fill="#0a49c4"/>
<circle cx="11" cy="11" r="4.4" fill="none" stroke="#e8c52a" stroke-width="1" stroke-dasharray="0.9 1.4" opacity=".85"/>
<circle cx="23.1" cy="11" r="9.5" fill="#30344a"/><circle cx="23.1" cy="11" r="8" fill="#dc0426"/>
<path d="M23.1 7v8.1M19 11.05h8.1" stroke="#fff" stroke-width="3"/>
</svg>
<span class="t" style="left:341.90px;top:70.90px;font-size:14px;line-height:18px;height:18px;color:#fff;transform:scaleX(0.9334);font-weight:700;">EUR/CHF (OTC)</span>
<span class="t" style="left:448.30px;top:70.90px;font-size:14px;line-height:18px;height:18px;color:#ff8c0a;transform:scaleX(0.9136);font-weight:700;">85%</span>
<svg width="10" height="6" viewBox="0 0 10 6" style="left:481.6px;top:78.2px"><path d="M0.8 0.8L5 5L9.2 0.8" stroke="#fff" stroke-width="1.4" fill="none"/></svg>
<svg width="20" height="20" viewBox="0 0 20 20" style="left:493px;top:57px"><circle cx="10" cy="10" r="9.2" fill="#30344a" stroke="#fff" stroke-width="1.4"/><path d="M6.9 6.9L13.1 13.1M13.1 6.9L6.9 13.1" stroke="#fff" stroke-width="1.4"/></svg>
<div class="a" style="left:126px;top:127px;width:10px;height:10px;border-radius:50%;background:#17402f"></div>
<div class="a" style="left:128.5px;top:129.5px;width:5px;height:5px;border-radius:50%;background:#0fad59"></div>
<span class="t" style="left:140.00px;top:124.60px;font-size:11px;line-height:14px;height:14px;color:#fff;transform:scaleX(0.8539);font-weight:700;">20:48:21</span>
<span class="t" style="left:182.80px;top:124.60px;font-size:11px;line-height:14px;height:14px;color:#51546a;transform:scaleX(0.8592);font-weight:700;">UTC+2</span>
<div class="a" style="left:126px;top:148px;width:134px;height:32px;border-radius:16px;background:rgba(10,110,215,.125)"></div>
<div class="a" style="left:136px;top:156px;width:16px;height:16px;border-radius:50%;background:#0073de"></div>
<svg width="16" height="16" viewBox="0 0 16 16" style="left:136px;top:156px"><rect x="7.1" y="3.4" width="1.9" height="1.9" fill="#fff"/><rect x="7.1" y="6.6" width="1.9" height="6" fill="#fff"/></svg>
<span class="t" style="left:158.00px;top:157.50px;font-size:10px;line-height:13px;height:13px;color:#0c76dc;transform:scaleX(0.9558);font-weight:700;">PAIR INFORMATION</span>
<div class="a" style="left:126px;top:741px;width:34px;height:34px;border-radius:0 3px 3px 0;background:rgba(54,58,78,.44)"></div>
<div class="a" style="left:126px;top:790px;width:34px;height:34px;border-radius:0 3px 3px 0;background:rgba(54,58,78,.44)"></div>
<div class="a" style="left:126px;top:839px;width:34px;height:34px;border-radius:0 3px 3px 0;background:rgba(54,58,78,.44)"></div>
<div class="a" style="left:126px;top:888px;width:34px;height:34px;border-radius:0 3px 3px 0;background:rgba(54,58,78,.44)"></div>
<svg width="34" height="34" viewBox="0 0 34 34" style="left:126px;top:741px"><path d="M10 19.3L16.75 13.5L20.5 17.5L14.3 23.9H10Z" fill="#fff"/><path d="M18.1 11.7L19.9 10.2C20.2 9.9 20.6 9.9 20.9 10.2L24.1 13.3C24.4 13.6 24.4 14 24.1 14.3L22.4 16Z" fill="#fff"/></svg>
<span class="t" style="left:135.00px;top:798.50px;font-size:13px;line-height:17px;height:17px;color:#fff;transform:scaleX(0.9048);font-weight:700;">1m</span>
<svg width="34" height="34" viewBox="0 0 34 34" style="left:126px;top:839px"><path d="M13.9 14.8V23.9M20.25 10V23.7" stroke="#fff" stroke-width="1.5"/><rect x="11.7" y="17.4" width="4.4" height="4.8" rx=".5" fill="#fff"/><rect x="17.8" y="12.2" width="5" height="9.1" rx=".5" fill="#fff"/></svg>
<svg width="34" height="34" viewBox="0 0 34 34" style="left:126px;top:888px">
<g transform="rotate(-34 16.5 16.3)"><rect x="8.3" y="14.1" width="16.4" height="4.4" rx=".4" fill="#fff"/><path d="M11 14.1v1.8M13.2 14.1v1.8M15.4 14.1v1.8M17.6 14.1v1.8M19.8 14.1v1.8M22 14.1v1.8" stroke="#2a2d3d" stroke-width=".6"/></g>
<path d="M10.2 11L12.4 9.8L19.6 23L18.4 23.2Z" fill="#fff" stroke="#2a2d3d" stroke-width=".5"/>
<path d="M17 14.2L23.8 18.8" stroke="#fff" stroke-width="1.1"/>
</svg>
<div class="a" style="left:1706px;top:56px;width:200px;height:349px;border-radius:7px;background:#2a2e40"></div>
<svg width="34" height="22" viewBox="0 0 34 22" style="left:1717.3px;top:69px">
<circle cx="11" cy="11" r="9.5" fill="#30344a"/><circle cx="11" cy="11" r="8" fill="#0a49c4"/>
<circle cx="11" cy="11" r="4.4" fill="none" stroke="#e8c52a" stroke-width="1" stroke-dasharray="0.9 1.4" opacity=".85"/>
<circle cx="23.1" cy="11" r="9.5" fill="#30344a"/><circle cx="23.1" cy="11" r="8" fill="#dc0426"/>
<path d="M23.1 7v8.1M19 11.05h8.1" stroke="#fff" stroke-width="3"/>
</svg>
<span class="t" style="left:1758.70px;top:70.20px;font-size:14px;line-height:18px;height:18px;color:#fff;transform:scaleX(0.9353);font-weight:700;">EUR/CHF (OTC)</span>
<span class="t" style="left:1864.60px;top:70.20px;font-size:14px;line-height:18px;height:18px;color:#65687a;transform:scaleX(0.9207);font-weight:700;">85%</span>
<div class="a" style="left:1721px;top:116px;width:170px;height:48px;border-radius:4px;border:1px solid #6d7081"></div>
<div class="a" style="left:1731px;top:110px;width:33px;height:12px;background:#2a2e40"></div>
<span class="t" style="left:1732.50px;top:106.60px;font-size:14px;line-height:18px;height:18px;color:#6a6d7f;letter-spacing:-0.031px;">Time</span>
<div class="a" style="left:1733px;top:128px;width:24px;height:24px;border-radius:50%;background:#646779"></div>
<span class="t" style="left:1742.60px;top:130.90px;font-size:13px;line-height:17px;height:17px;color:#fff;letter-spacing:0.470px;font-weight:700;">-</span>
<span class="t" style="left:1767.00px;top:129.10px;font-size:16px;line-height:21px;height:21px;color:#fff;letter-spacing:-0.126px;">00:01:00</span>
<div class="a" style="left:1855px;top:128px;width:24px;height:24px;border-radius:50%;background:#646779"></div>
<svg width="10" height="10" viewBox="0 0 10 10" style="left:1862px;top:135px"><path d="M0.6 5h8.8M5 0.6v8.8" stroke="#fff" stroke-width="1.5"/></svg>
<div class="a" style="left:1770px;top:157px;width:72px;height:13px;background:#2a2e40"></div>
<span class="t" style="left:1774.50px;top:157.10px;font-size:10px;line-height:13px;height:13px;color:#2b98f5;transform:scaleX(0.9606);font-weight:700;">SWITCH TIME</span>
<div class="a" style="left:1721px;top:186px;width:170px;height:48px;border-radius:4px;border:1px solid #6d7081"></div>
<div class="a" style="left:1731px;top:180px;width:71px;height:12px;background:#2a2e40"></div>
<span class="t" style="left:1732.50px;top:176.60px;font-size:14px;line-height:18px;height:18px;color:#6a6d7f;letter-spacing:0.003px;">Investment</span>
<div class="a" style="left:1733px;top:198px;width:24px;height:24px;border-radius:50%;background:#44485b"></div>
<span class="t" style="left:1742.60px;top:200.90px;font-size:13px;line-height:17px;height:17px;color:#6f7284;letter-spacing:0.470px;font-weight:700;">-</span>
<span class="t" style="left:1767.50px;top:199.10px;font-size:16px;line-height:21px;height:21px;color:#fff;transform:scaleX(0.9666);">1 $</span>
<div class="a" style="left:1855px;top:198px;width:24px;height:24px;border-radius:50%;background:#646779"></div>
<svg width="10" height="10" viewBox="0 0 10 10" style="left:1862px;top:205px"><path d="M0.6 5h8.8M5 0.6v8.8" stroke="#fff" stroke-width="1.5"/></svg>
<div class="a" style="left:1783px;top:227px;width:46px;height:13px;background:#2a2e40"></div>
<span class="t" style="left:1787.70px;top:227.10px;font-size:10px;line-height:13px;height:13px;color:#2b98f5;transform:scaleX(0.9407);font-weight:700;">SWITCH</span>
<div class="a" style="left:1721px;top:254px;width:170px;height:44px;border-radius:4px;background:#0fad59;box-shadow:0 3px 10px rgba(16,169,88,.35)"></div>
<span class="t" style="left:1740.90px;top:265.10px;font-size:16px;line-height:21px;height:21px;color:#fff;transform:scaleX(0.9330);font-weight:700;">Up</span>
<div class="a" style="left:1851.5px;top:266.5px;width:19px;height:19px;border-radius:50%;background:rgba(255,255,255,.32)"></div>
<svg width="10" height="10" viewBox="0 0 10 10" style="left:1856px;top:271px"><path d="M5 9.2V1.2M1.6 4.4L5 1L8.4 4.4" stroke="#fff" stroke-width="1.5" fill="none"/></svg>
<span class="t" style="left:1749.70px;top:312.80px;font-size:13px;line-height:17px;height:17px;color:#fff;letter-spacing:-0.066px;">Your payout:</span>
<span class="t" style="left:1825.50px;top:312.80px;font-size:13px;line-height:17px;height:17px;color:#fff;letter-spacing:0.071px;font-weight:700;">1.85 $</span>
<div class="a" style="left:1721px;top:346px;width:170px;height:44px;border-radius:4px;background:#ff6251;box-shadow:0 3px 10px rgba(255,98,81,.3)"></div>
<span class="t" style="left:1740.90px;top:357.10px;font-size:16px;line-height:21px;height:21px;color:#fff;transform:scaleX(0.9254);font-weight:700;">Down</span>
<div class="a" style="left:1851.5px;top:358.5px;width:19px;height:19px;border-radius:50%;background:rgba(255,255,255,.32)"></div>
<svg width="10" height="10" viewBox="0 0 10 10" style="left:1856px;top:363px"><path d="M5 0.8V8.8M1.6 5.6L5 9L8.4 5.6" stroke="#fff" stroke-width="1.5" fill="none"/></svg>
<div class="a" style="left:1706px;top:415px;width:200px;height:197px;border-radius:7px;background:#2a2e40"></div>
<div class="a" style="left:1712px;top:421px;width:144px;height:38px;border-radius:4px;background:#353949"></div>
<div class="a" style="left:1717.6px;top:427px;width:26.6px;height:26px;border-radius:4px;background:#fff"></div>
<svg width="10" height="6" viewBox="0 0 10 6" style="left:1726px;top:437.5px"><path d="M5 0.4L9.6 5.6H0.4Z" fill="#000"/></svg>
<span class="t" style="left:1776.00px;top:430.20px;font-size:14px;line-height:18px;height:18px;color:#fff;transform:scaleX(0.9460);font-weight:700;">Trades</span>
<div class="a" style="left:1862px;top:421px;width:38px;height:38px;border-radius:4px;background:#3e4254"></div>
<span class="t" style="left:1877.00px;top:430.20px;font-size:14px;line-height:18px;height:18px;color:#fff;letter-spacing:0.014px;">0</span>
<div class="a" style="left:1781px;top:473px;width:50px;height:50px;border-radius:50%;background:#3e4254"></div>
<svg width="32" height="26" viewBox="0 0 32 26" style="left:1790px;top:485px">
<path d="M2.4 1.2L7.6 4.6H24.4L29.6 1.2L31 9L26 11.4H6L1 9Z" fill="#fff"/>
<path d="M7 11V23.2C7 23.8 7.4 24.2 8 24.2H24C24.6 24.2 25 23.8 25 23.2V11Z" fill="#fff"/>
<rect x="9" y="6" width="14" height="5.4" fill="#3e4254"/>
<rect x="10" y="7" width="12" height="3.6" fill="#fff"/>
<rect x="13" y="13.4" width="6" height="1.4" rx=".7" fill="#3e4254"/>
</svg>
<span class="t" style="left:1737.80px;top:539.00px;font-size:14px;line-height:18px;height:18px;color:#8d8f9e;letter-spacing:-0.132px;">You don&#x27;t have a trade</span>
<span class="t" style="left:1722.60px;top:557.00px;font-size:14px;line-height:18px;height:18px;color:#8d8f9e;letter-spacing:-0.066px;">history yet. You can open a</span>
<span class="t" style="left:1720.80px;top:575.00px;font-size:14px;line-height:18px;height:18px;color:#8d8f9e;letter-spacing:-0.017px;">trade using the form above.</span>
</div></body></html>
